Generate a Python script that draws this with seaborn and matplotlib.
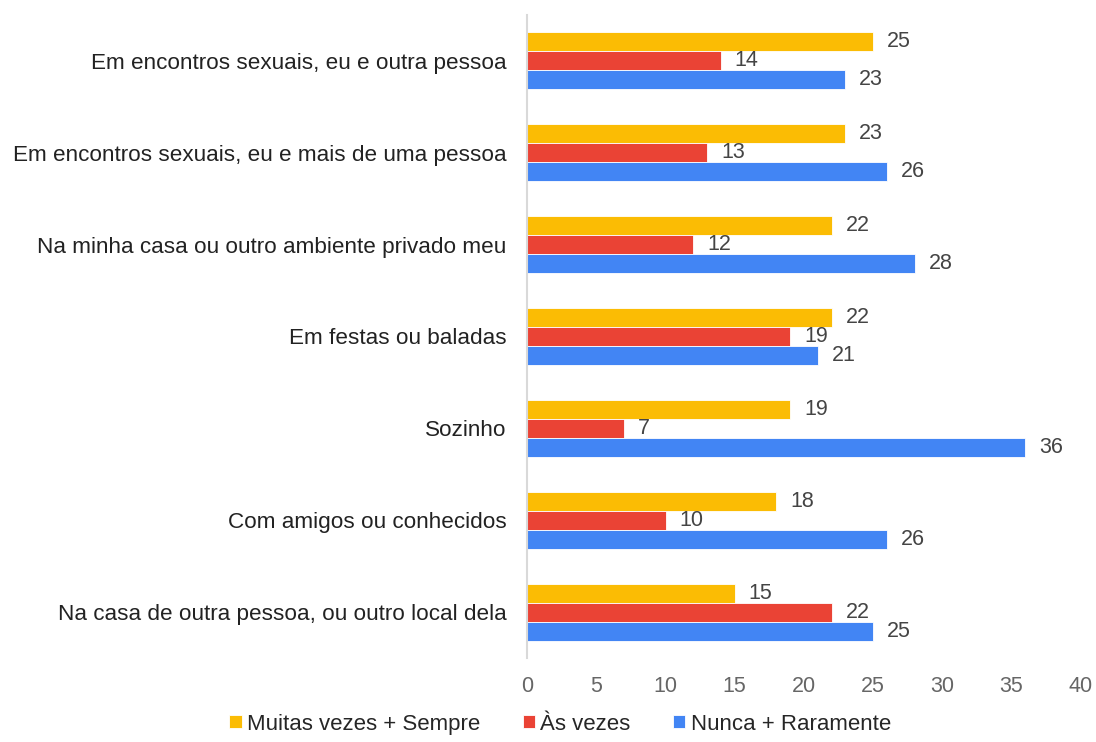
import pandas as pd
import matplotlib.pyplot as plt
import seaborn as sns

# Data
locais = ['Em encontros sexuais, eu e outra pessoa',
          'Em encontros sexuais, eu e mais de uma pessoa',
          'Na minha casa ou outro ambiente privado meu',
          'Em festas ou baladas',
          'Sozinho',
          'Com amigos ou conhecidos',
          'Na casa de outra pessoa, ou outro local dela']
muitas_vezes = [25, 23, 22, 22, 19, 18, 15]
as_vezes = [14, 13, 12, 19, 7, 10, 22]
nunca = [23, 26, 28, 21, 36, 26, 25]
series = ['Muitas vezes + Sempre', 'Às vezes', 'Nunca + Raramente']
cores = ['#FBBC04', '#EA4335', '#4285F4']

rows = []
for serie, vals in zip(series, [muitas_vezes, as_vezes, nunca]):
    for local, v in zip(locais, vals):
        rows.append({'local': local, 'serie': serie, 'valor': v})
df = pd.DataFrame(rows)

sns.set_style('white')
plt.rcParams['font.family'] = ['Liberation Sans', 'DejaVu Sans']

fig = plt.figure(figsize=(10.96, 7.42), dpi=100)
ax = fig.add_axes([0.481, 0.113, 0.505, 0.867])

sns.barplot(data=df, y='local', x='valor', hue='serie', palette=cores,
            order=locais, hue_order=series, orient='h', width=0.62,
            saturation=1, linewidth=0.6, edgecolor='white', ax=ax, legend=True)

for cont in ax.containers:
    ax.bar_label(cont, padding=10, fontsize=15.5, color='#444444')

ax.set_xlim(0, 40)
ax.set_ylim(len(locais) - 0.5, -0.5)
ax.set_xticks(range(0, 41, 5))
ax.set_xlabel('')
ax.set_ylabel('')
ax.tick_params(axis='x', labelsize=15.5, labelcolor='#666666', length=0, pad=13)
ax.tick_params(axis='y', labelsize=16.2, labelcolor='#222222', length=0, pad=15)
for s in ['top', 'right', 'bottom']:
    ax.spines[s].set_visible(False)
ax.spines['left'].set_color('#d9d9d9')
ax.spines['left'].set_linewidth(1.5)

handles, labels = ax.get_legend_handles_labels()
ax.get_legend().remove()
fig.legend(handles, labels, loc='lower center', bbox_to_anchor=(0.511, -0.017),
           ncol=3, frameon=False, fontsize=16, handlelength=0.55,
           handleheight=0.55, handletextpad=0.25, columnspacing=1.9)

fig.savefig('out.png', dpi=100)
